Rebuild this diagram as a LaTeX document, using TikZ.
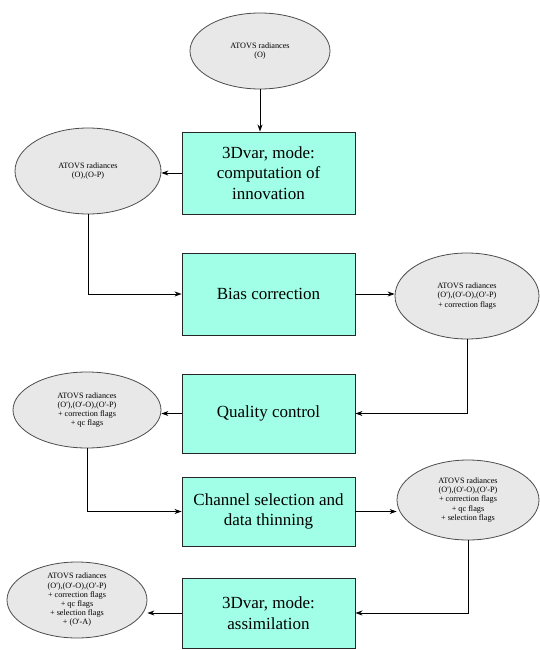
\documentclass[tikz,border=0pt]{standalone}
\usepackage{fontspec}
\setmainfont{Liberation Serif}
\newfontfamily\stepfont{Liberation Serif}
\usetikzlibrary{shapes.geometric,arrows.meta}
\definecolor{boxcyan}{RGB}{160,255,230}
\definecolor{ellgray}{RGB}{232,232,232}

\begin{document}
\begin{tikzpicture}[x=1pt,y=-1pt,
  stepbox/.style={draw=black!85,fill=boxcyan,line width=0.9pt,minimum width=173pt,
    align=center,inner sep=0pt,font=\stepfont\fontsize{17}{20.5}\selectfont},
  datablob/.style={ellipse,draw=black!70,fill=ellgray,line width=0.8pt,inner sep=0pt,
    align=center,font=\stepfont\fontsize{8.2}{9.2}\selectfont},
  arr/.style={-{Stealth[length=7pt,width=5pt]},line width=0.8pt}]
  \useasboundingbox (0,0) rectangle (539,650);
  % radiance data sets
  \node[datablob,minimum width=140pt,minimum height=76pt] (e1) at (260,51) {ATOVS radiances\\(O)};
  \node[datablob,minimum width=146pt,minimum height=86pt] (e2) at (88,171) {ATOVS radiances\\(O),(O-P)};
  \node[datablob,minimum width=144pt,minimum height=86pt] (e3) at (467,296) {ATOVS radiances\\(O'),(O'-O),(O'-P)\\+ correction flags};
  \node[datablob,minimum width=148pt,minimum height=76pt] (e4) at (87,410) {ATOVS radiances\\(O'),(O'-O),(O'-P)\\+ correction flags\\+ qc flags};
  \node[datablob,minimum width=142pt,minimum height=80pt] (e5) at (468,500) {ATOVS radiances\\(O'),(O'-O),(O'-P)\\+ correction flags\\+ qc flags\\+ selection flags};
  \node[datablob,minimum width=140pt,minimum height=76pt] (e6) at (77,600) {ATOVS radiances\\(O'),(O'-O),(O'-P)\\+ correction flags\\+ qc flags\\+ selection flags\\+ (O'-A)};
  % processing steps
  \node[stepbox,minimum height=82pt] (b1) at (268.5,173) {3Dvar, mode:\\computation of\\innovation};
  \node[stepbox,minimum height=82pt] (b2) at (268.5,294) {Bias correction};
  \node[stepbox,minimum height=79pt] (b3) at (268.5,413.5) {Quality control};
  \node[stepbox,minimum height=69pt] (b4) at (268.5,511.5) {Channel selection and\\data thinning};
  \node[stepbox,minimum height=70pt] (b5) at (268.5,613) {3Dvar, mode:\\assimilation};
  % flow
  \draw[arr] (e1.south) -- (e1.south |- b1.north);
  \draw[arr] (b1.west) -- (b1.west -| e2.east);
  \draw[arr] (e2.south) |- (b2.west);
  \draw[arr] (b2.east) -- (b2.east -| e3.west);
  \draw[arr] (e3.south) |- (b3.east);
  \draw[arr] (b3.west) -- (b3.west -| e4.east);
  \draw[arr] (e4.south) |- (b4.west);
  \draw[arr] (b4.east) -- (b4.east -| e5.west);
  \draw[arr] (e5.south) |- (b5.east);
  \draw[arr] (b5.west) -- (b5.west -| e6.east);
\end{tikzpicture}
\end{document}
